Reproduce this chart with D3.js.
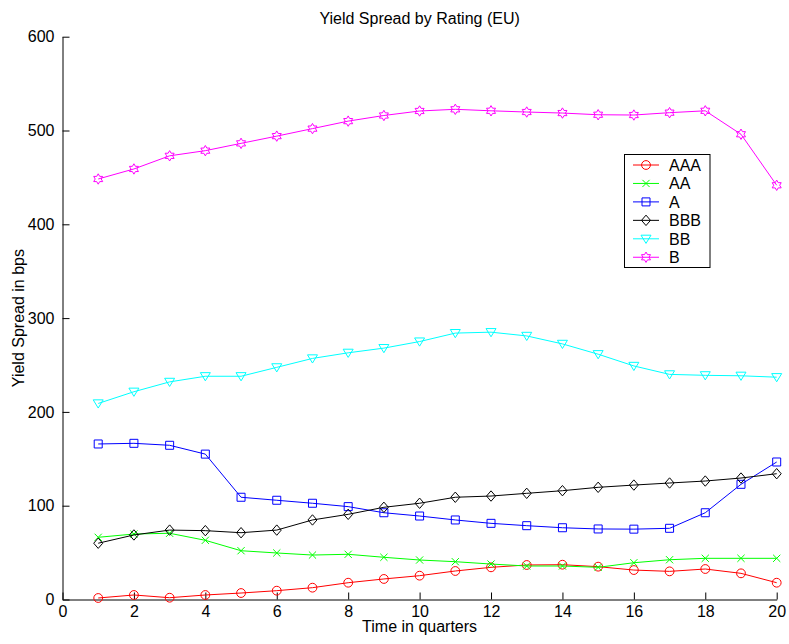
<!DOCTYPE html>
<html>
<head>
<meta charset="utf-8">
<script src="https://cdn.jsdelivr.net/npm/d3@7/dist/d3.min.js"></script>
<style>
  body { margin: 0; background: #fff; }
  svg { display: block; font-family: "Liberation Sans", Arial, sans-serif; }
  .axis text { font-size: 16px; fill: #000; }
  .axis path, .axis line { stroke: #000; }
</style>
</head>
<body>
<script>
// quarters on the x axis
var quarters = [1, 2, 3, 4, 5, 6, 7, 8, 9, 10, 11, 12, 13, 14, 15, 16, 17, 18, 19, 20];

// yield spread per rating, in bps
var aaa = [1.6, 4.8, 1.9, 4.8, 6.9, 9.4, 12.6, 17.9, 21.9, 25.4, 30.4, 34.3, 36.8, 37.1, 35.0, 31.4, 30.0, 32.5, 27.9, 17.9];
var aa  = [66.3, 69.8, 70.6, 63.1, 52.0, 49.6, 47.4, 48.2, 45.0, 42.1, 40.3, 37.8, 35.7, 35.7, 34.3, 39.2, 42.4, 43.9, 43.9, 43.9];
var a   = [165.8, 166.5, 164.4, 155.0, 109.0, 105.8, 102.6, 99.0, 92.5, 89.0, 84.8, 81.2, 78.7, 76.5, 75.2, 75.0, 75.9, 92.5, 122.8, 146.6];
var bbb = [60.0, 68.8, 74.0, 73.4, 71.2, 74.0, 84.8, 90.8, 98.3, 102.6, 109.0, 110.3, 113.2, 116.0, 119.6, 122.0, 124.2, 126.3, 129.5, 134.1];
var bb  = [209, 221.5, 232, 238, 238, 247.5, 257, 263, 268, 275, 284, 285, 281, 272.5, 261.5, 249, 240, 239, 238.5, 237];
var b   = [448.3, 459, 473, 478.5, 486.3, 494, 502, 510, 516, 520.8, 522.6, 521, 519.7, 518.6, 516.8, 516.5, 519, 521, 496, 441.6];

var ratings = ["AAA", "AA", "A", "BBB", "BB", "B"];
var xTicks = [0, 2, 4, 6, 8, 10, 12, 14, 16, 18, 20];
var yTicks = [0, 100, 200, 300, 400, 500, 600];

var series = [
  {name: "AAA", values: aaa, color: "#ff0000", marker: "circle"},
  {name: "AA",  values: aa,  color: "#00ff00", marker: "x"},
  {name: "A",   values: a,   color: "#0000ff", marker: "square"},
  {name: "BBB", values: bbb, color: "#000000", marker: "diamond"},
  {name: "BB",  values: bb,  color: "#00ffff", marker: "triangle"},
  {name: "B",   values: b,   color: "#ff00ff", marker: "hexagram"}
];

var W = 789, H = 644;
var plotLeft = 62.5, plotRight = 776.7, plotTop = 36.7, plotBottom = 599.5;

var svg = d3.select("body").append("svg")
    .attr("width", W)
    .attr("height", H);

var x = d3.scaleLinear().domain([0, 20]).range([plotLeft, plotRight]);
var y = d3.scaleLinear().domain([0, 600]).range([plotBottom, plotTop]);

// marker shapes (MATLAB style)
function markerPath(type) {
  var p = d3.path();
  if (type == "circle") {
    p.moveTo(4.4, 0); p.arc(0, 0, 4.4, 0, 2 * Math.PI);
  } else if (type == "x") {
    p.moveTo(-3.6, -3.6); p.lineTo(3.6, 3.6);
    p.moveTo(-3.6, 3.6); p.lineTo(3.6, -3.6);
  } else if (type == "square") {
    p.rect(-4, -4, 8, 8);
  } else if (type == "diamond") {
    p.moveTo(0, -5.2); p.lineTo(4.5, 0); p.lineTo(0, 5.2); p.lineTo(-4.5, 0); p.closePath();
  } else if (type == "triangle") {
    p.moveTo(-5, -3.6); p.lineTo(5, -3.6); p.lineTo(0, 4.6); p.closePath();
  } else if (type == "hexagram") {
    var R = 5.2, r = R / Math.sqrt(3);
    for (var i = 0; i < 12; i++) {
      var ang = -Math.PI / 2 + i * Math.PI / 6;
      var rr = (i % 2 == 0) ? R : r;
      if (i == 0) p.moveTo(rr * Math.cos(ang), rr * Math.sin(ang));
      else p.lineTo(rr * Math.cos(ang), rr * Math.sin(ang));
    }
    p.closePath();
  }
  return p.toString();
}

// axes, ticks pointing inward
svg.append("g")
    .attr("class", "axis")
    .attr("transform", "translate(0," + plotBottom + ")")
    .call(d3.axisBottom(x).tickValues(xTicks).tickSizeInner(-7).tickSizeOuter(0).tickPadding(6));

svg.append("g")
    .attr("class", "axis")
    .attr("transform", "translate(" + plotLeft + ",0)")
    .call(d3.axisLeft(y).tickValues(yTicks).tickSizeInner(-7).tickSizeOuter(0).tickPadding(8));

svg.selectAll(".axis").attr("font-family", null).attr("font-size", null);

var line = d3.line()
    .x(function(d, i) { return x(quarters[i]); })
    .y(function(d) { return y(d); });

var groups = svg.selectAll(".rating")
  .data(series)
  .enter().append("g")
    .attr("class", "rating");

groups.append("path")
    .attr("d", function(d) { return line(d.values); })
    .attr("fill", "none")
    .attr("stroke", function(d) { return d.color; })
    .attr("stroke-width", 1);

groups.each(function(s) {
  d3.select(this).selectAll(".mk")
    .data(s.values)
    .enter().append("path")
      .attr("class", "mk")
      .attr("transform", function(d, i) { return "translate(" + x(quarters[i]) + "," + y(d) + ")"; })
      .attr("d", markerPath(s.marker))
      .attr("fill", "none")
      .attr("stroke", s.color)
      .attr("stroke-width", 1);
});

// title and axis labels
svg.append("text")
    .attr("x", (plotLeft + plotRight) / 2)
    .attr("y", 24)
    .attr("text-anchor", "middle")
    .style("font-size", "16px")
    .text("Yield Spread by Rating (EU)");

svg.append("text")
    .attr("x", (plotLeft + plotRight) / 2)
    .attr("y", 632)
    .attr("text-anchor", "middle")
    .style("font-size", "16px")
    .text("Time in quarters");

svg.append("text")
    .attr("transform", "translate(24," + (plotTop + plotBottom) / 2 + ") rotate(-90)")
    .attr("text-anchor", "middle")
    .style("font-size", "16px")
    .text("Yield Spread in bps");

// legend
var legend = svg.append("g").attr("transform", "translate(624.5,154.5)");

legend.append("rect")
    .attr("width", 85.5)
    .attr("height", 113)
    .attr("fill", "#fff")
    .attr("stroke", "#000")
    .attr("stroke-width", 1);

var item = legend.selectAll(".item")
  .data(series)
  .enter().append("g")
    .attr("class", "item")
    .attr("transform", function(d, i) { return "translate(0," + (10.5 + i * 18.45) + ")"; });

item.append("line")
    .attr("x1", 8.5).attr("x2", 34.5)
    .attr("stroke", function(d) { return d.color; });

item.append("path")
    .attr("transform", "translate(21.5,0)")
    .attr("d", function(d) { return markerPath(d.marker); })
    .attr("fill", "none")
    .attr("stroke", function(d) { return d.color; });

item.append("text")
    .attr("x", 44.5)
    .attr("dy", "0.36em")
    .style("font-size", "16px")
    .text(function(d, i) { return ratings[i]; });
</script>
</body>
</html>
